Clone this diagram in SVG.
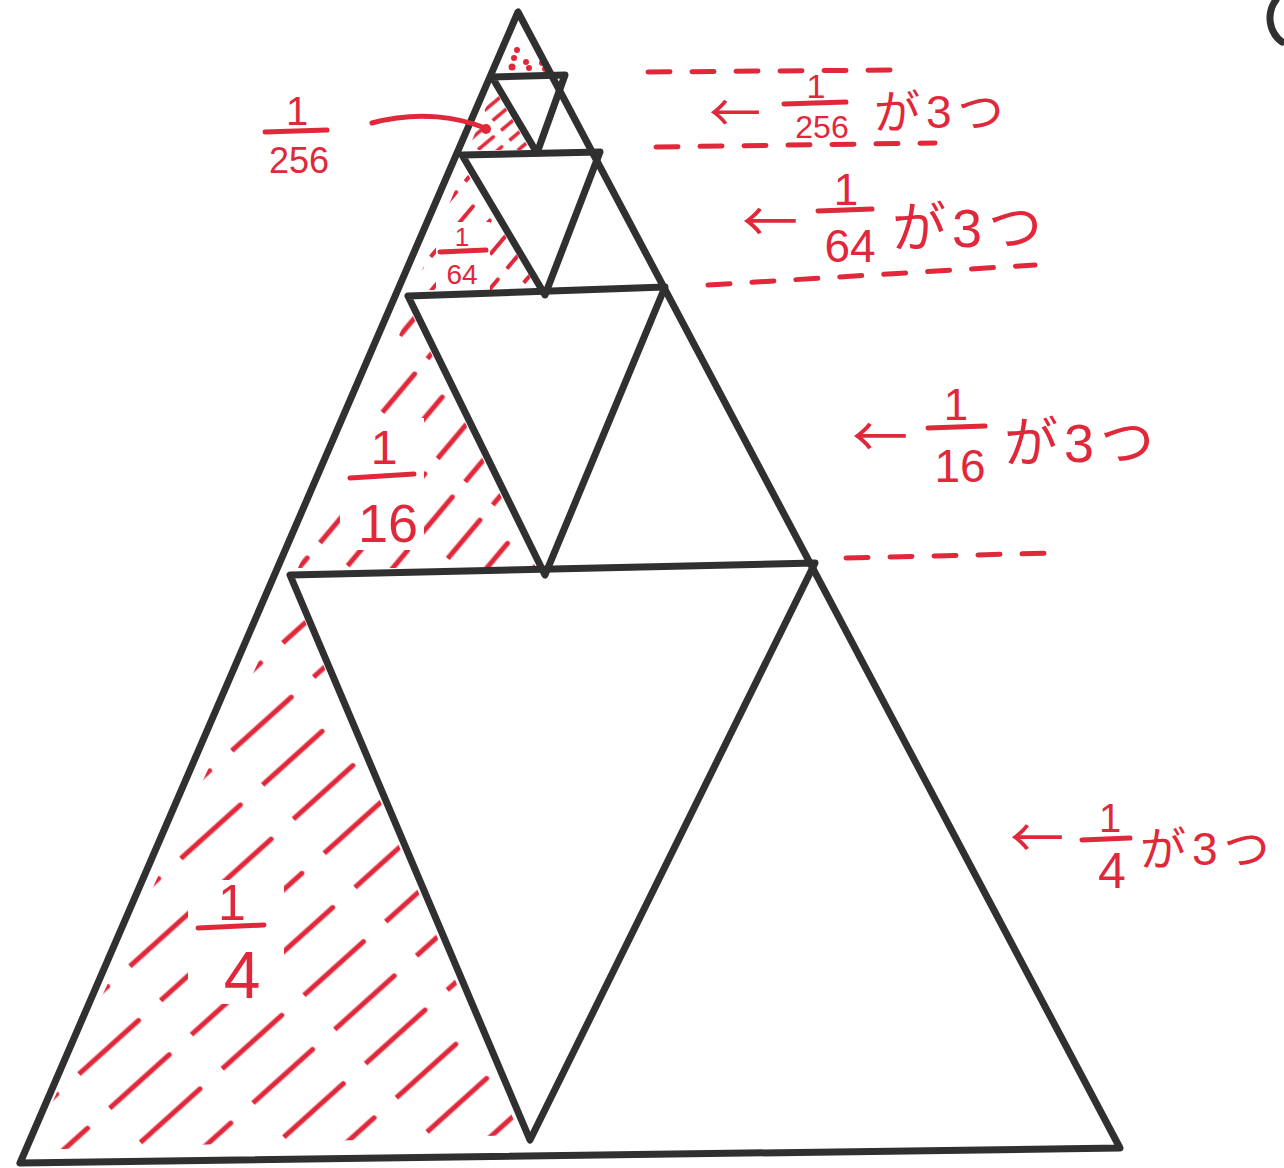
<svg xmlns="http://www.w3.org/2000/svg" width="1284" height="1168" viewBox="0 0 1284 1168">
<style>
.tri{fill:none;stroke:#2f302f;stroke-width:7;stroke-linejoin:round;stroke-linecap:round}
.r{fill:#e0283a;font-family:"Liberation Sans","Noto Sans CJK JP",sans-serif;text-anchor:middle}
.g{fill:#e0283a;font-family:"Liberation Sans","Noto Sans CJK JP",sans-serif;text-anchor:start;letter-spacing:6px}
.ar{fill:#e0283a;font-family:"Noto Sans CJK JP",sans-serif;text-anchor:middle}
.bar{stroke:#e0283a;stroke-width:5;stroke-linecap:round;fill:none}
.dash{stroke:#e0283a;stroke-width:5;stroke-linecap:round;fill:none;stroke-dasharray:22 22}
</style>
<defs>
<pattern id="h1" patternUnits="userSpaceOnUse" width="110" height="46" patternTransform="rotate(-42)">
<line x1="0" y1="23" x2="80" y2="23" stroke="#e0283a" stroke-width="5" stroke-linecap="round"/>
</pattern>
<pattern id="h2" patternUnits="userSpaceOnUse" width="70" height="36" patternTransform="rotate(-50)">
<line x1="0" y1="18" x2="50" y2="18" stroke="#e0283a" stroke-width="5" stroke-linecap="round"/>
</pattern>
<pattern id="h3" patternUnits="userSpaceOnUse" width="40" height="22" patternTransform="rotate(-50)">
<line x1="0" y1="11" x2="26" y2="11" stroke="#e0283a" stroke-width="4" stroke-linecap="round"/>
</pattern>
<pattern id="h4" patternUnits="userSpaceOnUse" width="30" height="13" patternTransform="rotate(-40)">
<line x1="0" y1="6" x2="20" y2="6" stroke="#e0283a" stroke-width="3.5" stroke-linecap="round"/>
</pattern>
</defs>
<g id="hatching">
<polygon points="30,1150 292,590 520,1135" fill="url(#h1)"/>
<polygon points="298,568 410,310 536,568" fill="url(#h2)"/>
<polygon points="414,290 464,168 538,290" fill="url(#h3)"/>
<polygon points="468,150 494,88 530,150" fill="url(#h4)"/>
<g fill="#fff">
<rect x="188" y="880" width="96" height="124"/>
<rect x="340" y="418" width="84" height="132"/>
<rect x="436" y="222" width="54" height="68"/>
</g>
<g fill="#e0283a">
<circle cx="517" cy="50" r="3"/><circle cx="514" cy="58" r="3"/><circle cx="512" cy="67" r="3.5"/>
<circle cx="526" cy="62" r="3"/><circle cx="529" cy="68" r="3"/><circle cx="542" cy="63" r="3"/><circle cx="545" cy="69" r="3"/>
</g>
</g>
<g id="triangle">
<path class="tri" d="M518,12 L20,1163 L1120,1148 Z"/>
<path class="tri" d="M290,575 L815,563 L530,1140 Z"/>
<path class="tri" d="M408,296 L665,287 L545,575 Z"/>
<path class="tri" d="M462,155 L600,152 L545,295 Z"/>
<path class="tri" d="M492,77 L565,75 L537,153 Z"/>
<path class="tri" d="M1276,0 A30,30 0 0 0 1282,42"/>
</g>
<g id="inner-labels">
<text class="r" x="232" y="920" font-size="50">1</text>
<line class="bar" x1="198" y1="928" x2="264" y2="925"/>
<text class="r" x="242" y="998" font-size="66">4</text>
<text class="r" x="384" y="464" font-size="48">1</text>
<line class="bar" x1="350" y1="478" x2="414" y2="474"/>
<text class="r" x="388" y="542" font-size="54">16</text>
<text class="r" x="462" y="246" font-size="26">1</text>
<line class="bar" x1="440" y1="252" x2="486" y2="250"/>
<text class="r" x="462" y="284" font-size="28">64</text>
<text class="r" x="297" y="125" font-size="40">1</text>
<line class="bar" x1="265" y1="132" x2="327" y2="130"/>
<text class="r" x="299" y="173" font-size="36">256</text>
<path class="bar" d="M372,123 C420,110 460,118 485,128"/>
<circle cx="486" cy="129" r="5" fill="#e0283a"/>
</g>
<g id="right-labels">
<path class="dash" d="M648,72 L892,70"/>
<path class="dash" d="M656,147 L935,143"/>
<text class="ar" x="735" y="132" font-size="52">←</text>
<text class="r" x="816" y="98" font-size="34">1</text>
<line class="bar" x1="784" y1="104" x2="846" y2="102"/>
<text class="r" x="822" y="138" font-size="32">256</text>
<text class="g" x="874" y="128" font-size="46">が3つ</text>
<path class="dash" d="M708,285 L1035,265"/>
<text class="ar" x="770" y="242" font-size="56">←</text>
<text class="r" x="846" y="205" font-size="44">1</text>
<line class="bar" x1="818" y1="211" x2="872" y2="209"/>
<text class="r" x="850" y="262" font-size="46">64</text>
<text class="g" x="892" y="247" font-size="54">が3つ</text>
<text class="ar" x="880" y="457" font-size="56">←</text>
<text class="r" x="956" y="420" font-size="44">1</text>
<line class="bar" x1="928" y1="428" x2="985" y2="426"/>
<text class="r" x="960" y="482" font-size="46">16</text>
<text class="g" x="1004" y="462" font-size="54">が3つ</text>
<path class="dash" d="M846,558 L1058,553"/>
<text class="ar" x="1037" y="858" font-size="54">←</text>
<text class="r" x="1110" y="832" font-size="40">1</text>
<line class="bar" x1="1082" y1="840" x2="1130" y2="838"/>
<text class="r" x="1112" y="888" font-size="50">4</text>
<text class="g" x="1140" y="865" font-size="46" letter-spacing="1">が3つ</text>
</g>
</svg>
